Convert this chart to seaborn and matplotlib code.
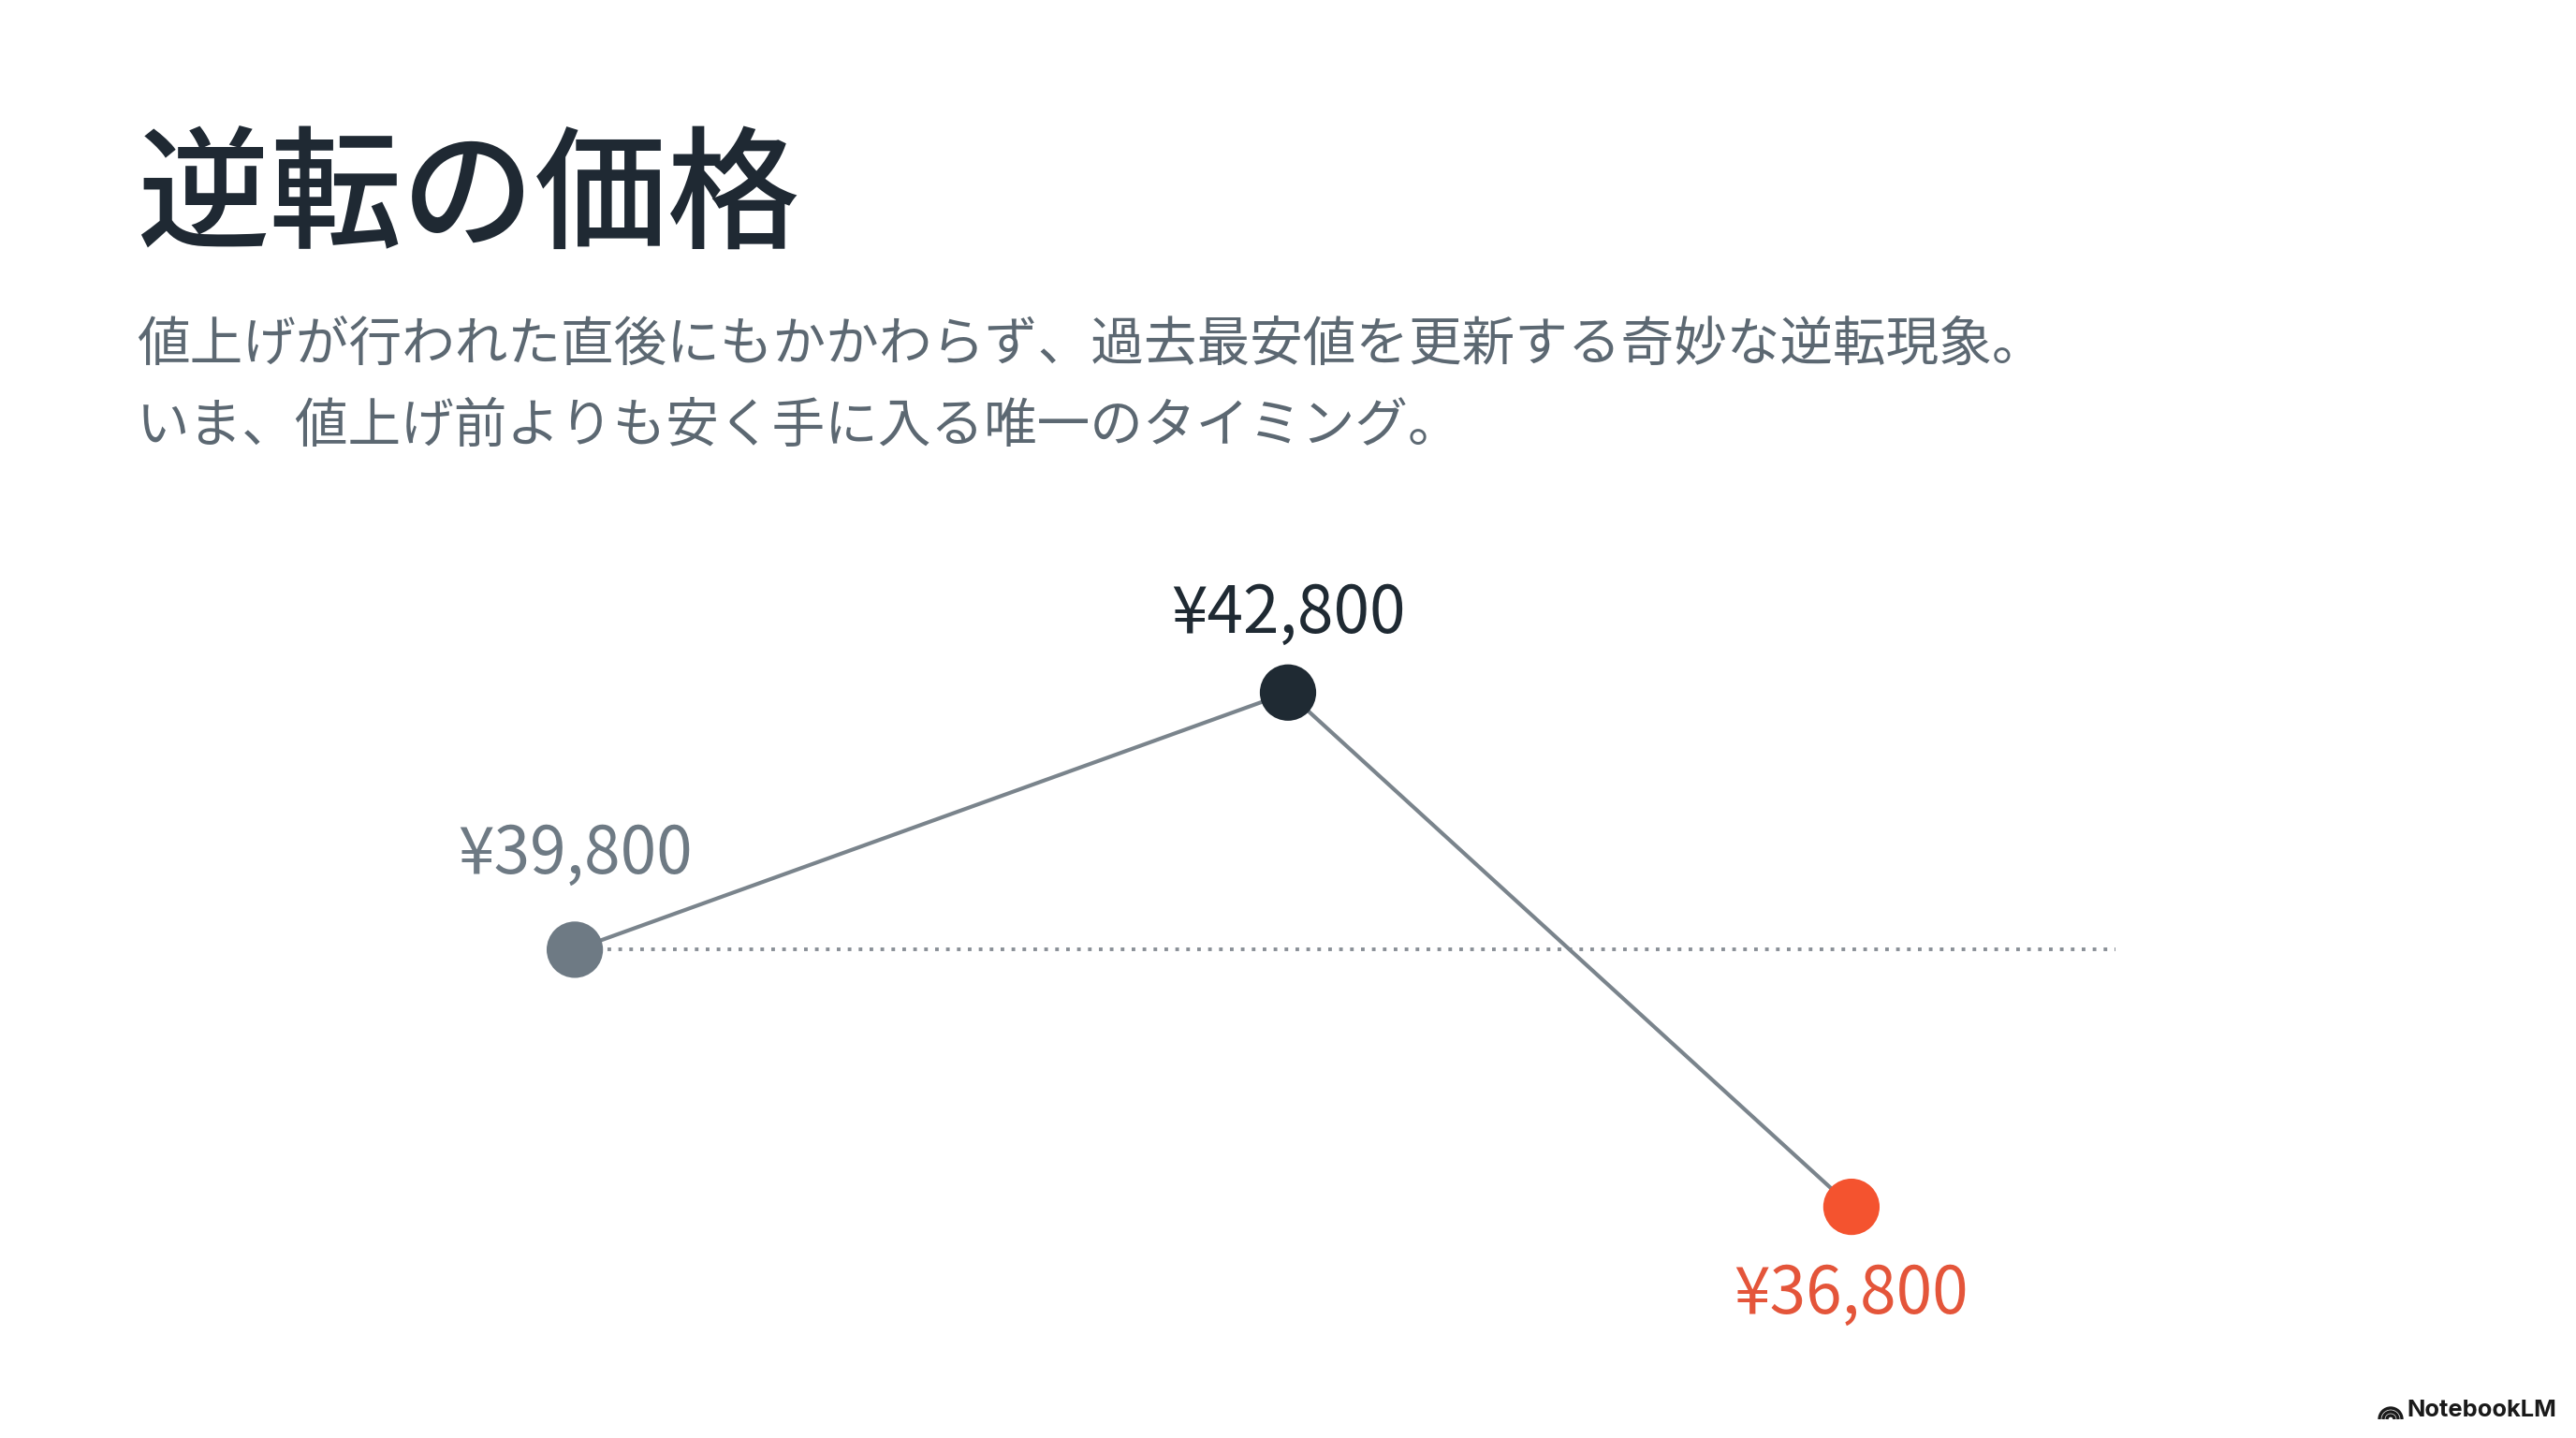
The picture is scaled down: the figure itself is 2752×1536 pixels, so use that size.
import matplotlib
matplotlib.use('Agg')
import matplotlib.pyplot as plt
from matplotlib.patches import Arc
import seaborn as sns
import pandas as pd

# Data
stage_x = [0.0, 1.0, 1.79]          # timeline position of each price point
prices = [39800, 42800, 36800]      # before hike, after hike, now
baseline_price = 39800              # price before the hike (dotted reference)
baseline_end_x = 2.16

title = '逆転の価格'
subtitle = ['値上げが行われた直後にもかかわらず、過去最安値を更新する奇妙な逆転現象。',
            'いま、値上げ前よりも安く手に入る唯一のタイミング。']

point_colors = ['#6E7A84', '#1F2A33', '#F4532F']
label_colors = ['#6E7A84', '#1F2A33', '#E4553A']
label_offsets = [36.5, 30, -34]      # points above (+) / below (-) the marker

sns.set_theme(style='white')
plt.rcParams['font.family'] = ['Noto Sans CJK JP', 'DejaVu Sans']

df = pd.DataFrame({'x': stage_x, 'price': prices,
                   'stage': ['a', 'b', 'c']})

fig = plt.figure(figsize=(13.76, 7.68), dpi=200)
fig.patch.set_facecolor('white')
ax = fig.add_axes([0, 0, 1, 1])

# dotted baseline at the pre-hike price
ax.hlines(baseline_price, stage_x[0], baseline_end_x, colors='#8A9097',
          linewidth=1.4, linestyles=(0, (1, 2)), zorder=1)

sns.lineplot(data=df, x='x', y='price', color='#7A848C', linewidth=1.5,
             ax=ax, zorder=2, sort=False)
sns.scatterplot(data=df, x='x', y='price', hue='stage', palette=point_colors,
                s=470, linewidth=0, legend=False, ax=ax, zorder=3)

for x, p, c, off in zip(stage_x, prices, label_colors, label_offsets):
    ax.annotate(f'¥{p:,}', (x, p), xytext=(0, off), textcoords='offset points',
                ha='center', va='center', fontsize=25, color=c)

ax.set_xlim(-0.806, 2.806)
ax.set_ylim(34103, 50880)
ax.axis('off')

fig.text(0.053, 1 - 214 / 1536, title, fontsize=51, fontweight='medium',
         color='#1F2933', ha='left', va='center')
fig.text(0.053, 1 - 369 / 1536, subtitle[0], fontsize=20.4,
         color='#5C6872', ha='left', va='center')
fig.text(0.053, 1 - 456 / 1536, subtitle[1], fontsize=20.4,
         color='#5C6872', ha='left', va='center')

# NotebookLM mark in the corner
fig.text(0.9924, 0.0195, 'NotebookLM', fontsize=9.2, fontweight='bold',
         family=['Inter', 'DejaVu Sans'], color='#1A1A1A', ha='right', va='center')
cx, cy = 2554 / 2752, 1 - 1516 / 1536
for r in [4, 8, 12]:
    fig.patches.append(Arc((cx, cy), 2 * r / 2752, 2 * r / 1536, theta1=0,
                           theta2=180, transform=fig.transFigure,
                           color='#1A1A1A', linewidth=1.2))

fig.savefig('out.png', dpi=200, facecolor='white')
